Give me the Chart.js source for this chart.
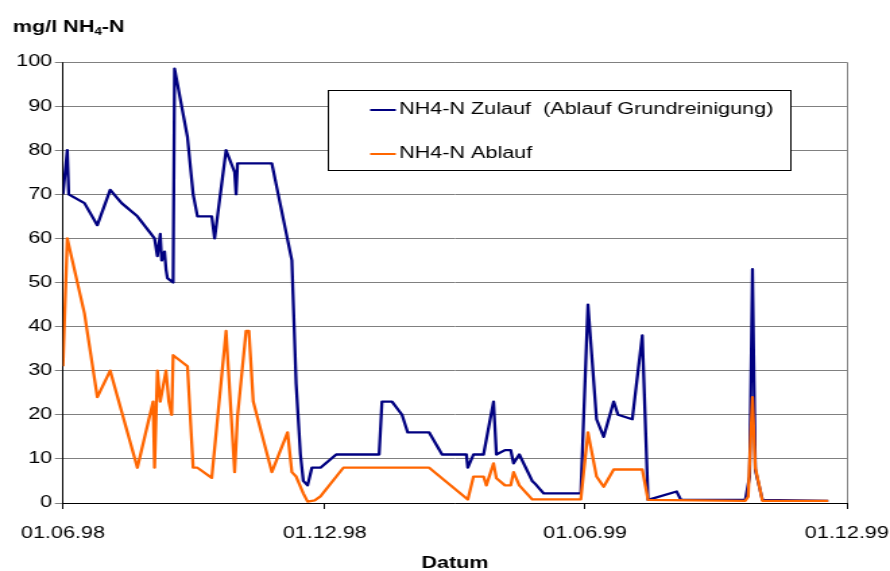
<!DOCTYPE html>
<html>
<head>
<meta charset="utf-8">
<script src="https://cdn.jsdelivr.net/npm/chart.js@4.4.1/dist/chart.umd.min.js"></script>
<style>
  html, body { margin: 0; padding: 0; background: #fff; }
  #nh4Chart { display: block; }
</style>
</head>
<body>
<!-- canvas is drawn narrower and stretched, like the original picture -->
<canvas id="nh4Chart" width="660" height="571" style="width: 890px; height: 571px;"></canvas>
<script>
const datum = [
    "1998-06-01", "1998-06-04", "1998-06-05", "1998-06-16", "1998-06-25", "1998-07-04", "1998-07-12", "1998-07-23",
    "1998-08-03", "1998-08-04", "1998-08-06", "1998-08-08", "1998-08-09", "1998-08-11", "1998-08-12", "1998-08-13",
    "1998-08-14", "1998-08-16", "1998-08-17", "1998-08-18", "1998-08-27", "1998-08-31", "1998-09-03", "1998-09-13",
    "1998-09-15", "1998-09-23", "1998-09-29", "1998-09-30", "1998-10-01", "1998-10-07", "1998-10-09", "1998-10-12",
    "1998-10-25", "1998-11-05", "1998-11-08", "1998-11-11", "1998-11-14", "1998-11-16", "1998-11-19", "1998-11-22",
    "1998-11-24", "1998-11-28", "1998-12-09", "1998-12-14", "1999-01-08", "1999-01-10", "1999-01-17", "1999-01-24",
    "1999-01-28", "1999-02-12", "1999-02-21", "1999-03-10", "1999-03-11", "1999-03-15", "1999-03-22", "1999-03-24",
    "1999-03-29", "1999-03-31", "1999-04-06", "1999-04-10", "1999-04-12", "1999-04-16", "1999-04-25", "1999-04-27",
    "1999-05-03", "1999-05-29", "1999-06-03", "1999-06-09", "1999-06-14", "1999-06-21", "1999-06-24", "1999-07-04",
    "1999-07-11", "1999-07-15", "1999-08-04", "1999-08-07", "1999-09-21", "1999-09-23", "1999-09-24", "1999-09-26",
    "1999-09-28", "1999-10-03", "1999-11-18"
];

const zulauf = [
    70, 80, 70, 68, 63, 71, 68, 65,
    null, 60, 56, 61, 55, 57, 53, 51,
    null, null, 50, 98.5, 83, 70, 65, 65,
    60, 80, 75, 70, 77, null, null, null,
    77, null, 55, 27, 11, 5, 4, 8,
    null, 8, 11, null, 11, 23, 23, 20,
    16, 16, 11, 11, 8, 11, 11, null,
    23, 11, 12, 12, 9, 11, 5, 4.4,
    2.2, 2.2, 45, 19, 15, 23, 20, 19,
    38, 0.7, 2.6, 0.7, 0.7, null, 6, 53,
    7.5, 0.7, 0.5
];

const ablauf = [
    31, 60, null, 43, 24, 30, null, 8,
    23, 8, 30, 23, null, null, 30, null,
    23, 20, 33.5, null, 31, 8, 8, 5.7,
    null, 39, 7, null, 19.6, 39, 39, 23,
    7, 16, 7, 6, null, 2.2, 0.3, null,
    0.6, 1.5, null, 8, null, null, null, null,
    null, 8, null, null, 0.8, 6, 6, 4,
    9, 5.6, 4, 4, 7, 4, 0.8, null,
    null, 0.8, 16, 6, 3.7, 7.6, null, null,
    7.6, 0.7, null, null, 0.5, 1.4, null, 24,
    8, 0.5, 0.5
];

const tickDaten = ["1998-06-01", "1998-12-01", "1999-06-01", "1999-12-01"];
const tickLabels = ["01.06.98", "01.12.98", "01.06.99", "01.12.99"];
const serienNamen = ["NH4-N Zulauf  (Ablauf Grundreinigung)", "NH4-N Ablauf"];
const serienFarben = ["#000080", "#FF6600"];

const FONT = "'Liberation Sans', Arial, sans-serif";

// days since the first tick
function tag(s) {
    return (Date.parse(s) - Date.parse(tickDaten[0])) / 86400000;
}
const tickTage = tickDaten.map(tag);

function punkte(werte) {
    return datum.map((d, i) => ({ x: tag(d), y: werte[i] }));
}

// gray frame of the plot area
const rahmenPlugin = {
    id: "rahmen",
    beforeDatasetsDraw(chart) {
        const a = chart.chartArea;
        const c = chart.ctx;
        c.save();
        c.strokeStyle = "#808080";
        c.lineWidth = 1;
        c.beginPath();
        c.moveTo(a.left, a.top + 0.5);
        c.lineTo(a.right + 0.5, a.top + 0.5);
        c.lineTo(a.right + 0.5, a.bottom);
        c.stroke();
        c.restore();
    }
};

// boxed legend inside the plot + y title with subscript
const legendePlugin = {
    id: "legende",
    afterDraw(chart) {
        const c = chart.ctx;
        c.save();
        c.fillStyle = "#fff";
        c.fillRect(243.5, 90.5, 343, 80);
        c.strokeStyle = "#000";
        c.lineWidth = 1;
        c.strokeRect(243.5, 90.5, 343, 80);

        const zeilen = [110, 154];
        c.font = "16px " + FONT;
        c.textBaseline = "middle";
        c.textAlign = "left";
        serienNamen.forEach((name, i) => {
            c.strokeStyle = serienFarben[i];
            c.lineWidth = 2;
            c.beginPath();
            c.moveTo(274.5, zeilen[i]);
            c.lineTo(293.5, zeilen[i]);
            c.stroke();
            c.fillStyle = "#000";
            c.fillText(name, 296, zeilen[i]);
        });

        // y axis title: mg/l NH4-N
        c.textBaseline = "alphabetic";
        c.fillStyle = "#000";
        let x = 9.5;
        c.font = "bold 16px " + FONT;
        c.fillText("mg/l NH", x, 32);
        x += c.measureText("mg/l NH").width;
        c.font = "bold 10px " + FONT;
        c.fillText("4", x, 35);
        x += c.measureText("4").width;
        c.font = "bold 16px " + FONT;
        c.fillText("-N", x, 32);
        c.restore();
    }
};

const ctx = document.getElementById("nh4Chart").getContext("2d");

new Chart(ctx, {
    type: "line",
    data: {
        datasets: [
            {
                label: serienNamen[0],
                data: punkte(zulauf),
                borderColor: serienFarben[0],
                backgroundColor: serienFarben[0],
                borderWidth: 2.3,
                order: 2
            },
            {
                label: serienNamen[1],
                data: punkte(ablauf),
                borderColor: serienFarben[1],
                backgroundColor: serienFarben[1],
                borderWidth: 2.3,
                order: 1
            }
        ]
    },
    options: {
        responsive: false,
        animation: false,
        devicePixelRatio: 1,
        spanGaps: true,
        elements: {
            point: { radius: 0, hoverRadius: 0 },
            line: { tension: 0, borderJoinStyle: "round" }
        },
        layout: { padding: { left: 0, right: 32, top: 62, bottom: 0 } },
        plugins: {
            legend: { display: false },
            tooltip: { enabled: false }
        },
        scales: {
            x: {
                type: "linear",
                min: tickTage[0],
                max: tickTage[tickTage.length - 1],
                afterBuildTicks: function (scale) {
                    scale.ticks = tickTage.map(v => ({ value: v }));
                },
                afterFit: function (scale) {
                    scale.height = 68;
                    scale.paddingLeft = 0;
                    scale.paddingRight = 0;
                },
                ticks: {
                    autoSkip: false,
                    maxRotation: 0,
                    padding: 15,
                    color: "#000",
                    font: { family: FONT, size: 16 },
                    callback: function (value) {
                        const i = tickTage.indexOf(value);
                        return i >= 0 ? tickLabels[i] : "";
                    }
                },
                grid: {
                    drawOnChartArea: false,
                    drawTicks: true,
                    tickLength: 6,
                    color: "#000"
                },
                border: { color: "#000", width: 1 },
                title: {
                    display: true,
                    text: "Datum",
                    color: "#000",
                    font: { family: FONT, size: 16, weight: "bold" },
                    padding: { top: 0, bottom: -2 }
                }
            },
            y: {
                min: 0,
                max: 100,
                afterFit: function (scale) {
                    scale.width = 46.7;
                },
                ticks: {
                    stepSize: 10,
                    padding: 2,
                    color: "#000",
                    font: { family: FONT, size: 16 }
                },
                grid: {
                    color: "#808080",
                    lineWidth: 1,
                    tickLength: 6,
                    tickColor: "#808080"
                },
                border: { color: "#000", width: 1 }
            }
        }
    },
    plugins: [rahmenPlugin, legendePlugin]
});
</script>
</body>
</html>
